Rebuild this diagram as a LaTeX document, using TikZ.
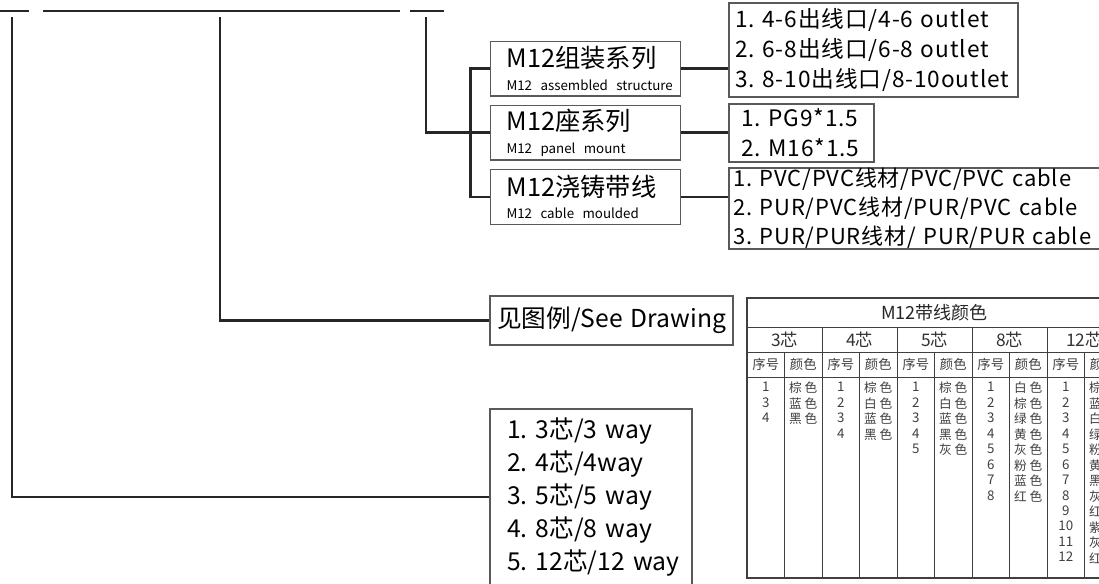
\documentclass[tikz,border=0pt]{standalone}
\usepackage{fontspec}
\setmainfont{Noto Sans CJK SC}
\newfontfamily\spacedfont{Noto Sans CJK SC}[LetterSpace=4]
\newfontfamily\narrowfont{Noto Sans CJK SC}[WordSpace=0.4]
\usepackage{xcolor}
\usepackage{tikz}
\exhyphenpenalty=10000
\hyphenpenalty=10000

\begin{document}
\begin{tikzpicture}[x=0.75pt, y=-0.75pt,
  wire/.style={line width=2.1pt, draw=black!85},
  box/.style={rectangle, draw=black!65, line width=1pt, fill=white, inner ysep=0pt, align=left},
  mainbox/.style={box, inner xsep=12pt, text width=118.5pt, minimum height=41pt, font=\fontsize{19}{17}\selectfont},
  listbox/.style={box, font=\spacedfont\fontsize{17}{22.5}\selectfont},
  tabline/.style={draw=black!75, line width=0.7pt},
  tabtitle/.style={inner sep=0pt, text=black!85, font=\fontsize{13.5}{14}\selectfont},
  tabhead/.style={inner sep=0pt, text=black!80, font=\fontsize{13}{13}\selectfont},
  tabsub/.style={inner sep=0pt, text=black!75, font=\fontsize{10}{10}\selectfont},
  tabnum/.style={inner sep=0pt, anchor=north, align=center, text=black!75, font=\fontsize{10}{11.6}\selectfont},
  tabclr/.style={inner sep=0pt, anchor=north, align=center, text=black!75, font=\fontsize{9.5}{11.6}\selectfont}]
  \useasboundingbox (0,0) rectangle (1099,583);
  \clip (0,0) rectangle (1099,583);
  \fill[white] (0,0) rectangle (1099,583);

  \draw[wire] (0,11) -- (29,11);
  \draw[wire] (43,11) -- (400,11);
  \draw[wire] (410,11) -- (444,11);
  \coordinate (coreTop) at (12,17);
  \coordinate (drawTop) at (220,17);
  \coordinate (seriesTop) at (426,17);

  \node[mainbox] (assembled) at (585.5,68.75) {M12组装系列\\{\narrowfont\fontsize{10}{13}\selectfont M12~assembled~structure}};
  \node[mainbox] (panel) at (585.5,132.75) {M12座系列\\{\narrowfont\fontsize{10}{13}\selectfont M12~panel~mount}};
  \node[mainbox] (moulded) at (585.5,197) {M12浇铸带线\\{\narrowfont\fontsize{10}{13}\selectfont M12~cable~moulded}};

  \node[listbox, inner xsep=4.5pt, text width=207.75pt, minimum height=70.5pt] (outlet) at (873.5,50) {1.~4-6出线口/4-6~outlet\\2.~6-8出线口/6-8~outlet\\3.~8-10出线口/8-10outlet};
  \node[listbox, inner xsep=9pt, text width=90.75pt, minimum height=43.5pt] (thread) at (801.5,133) {1.~PG9*1.5\\2.~M16*1.5};
  \node[listbox, inner xsep=3pt, text width=272.25pt, minimum height=60.75pt, font=\spacedfont\fontsize{16.5}{21.75}\selectfont] (cable) at (914.5,208.5) {1.~PVC/PVC线材/PVC/PVC~cable\\2.~PUR/PVC线材/PUR/PVC~cable\\3.~PUR/PUR线材/~PUR/PUR~cable};

  \node[box, inner xsep=5.25pt, text width=171.75pt, minimum height=36.75pt, font=\fontsize{18.5}{22}\selectfont] (drawing) at (611.5,320.5) {见图例/See~Drawing};
  \node[box, inner xsep=12.75pt, text width=126pt, minimum height=132pt, font=\fontsize{18.5}{24.75}\selectfont] (ways) at (591,497) {1.~3芯/3~way\\2.~4芯/4way\\3.~5芯/5~way\\4.~8芯/8~way\\5.~12芯/12~way};

  \draw[wire] (coreTop) |- (ways.west);
  \draw[wire] (drawTop) |- (drawing.west);
  \draw[wire] (seriesTop) |- (panel.west);
  \draw[wire] (assembled.west) -- ++(-19,0) |- (moulded.west);
  \draw[wire] (assembled.east) -- (assembled.east -| outlet.west);
  \draw[wire] (panel.east) -- (panel.east -| thread.west);
  \draw[wire] (moulded.east) -- (moulded.east -| cable.west);

  \draw[tabline, line width=1.1pt] (747,298) rectangle (1122,578);
  \draw[tabline] (747,327) -- (1122,327) (747,352) -- (1122,352) (747,377) -- (1122,377);
  \node[tabtitle] (tabTitle) at (934.5,312.5) {M12带线颜色};
  \foreach \g/\core/\nums/\cols in {
    0/3/{1\\3\\4}/{棕 色\\蓝 色\\黑 色},
    1/4/{1\\2\\3\\4}/{棕 色\\白 色\\蓝 色\\黑 色},
    2/5/{1\\2\\3\\4\\5}/{棕 色\\白 色\\蓝 色\\黑 色\\灰 色},
    3/8/{1\\2\\3\\4\\5\\6\\7\\8}/{白 色\\棕 色\\绿 色\\黄 色\\灰 色\\粉 色\\蓝 色\\红 色},
    4/12/{1\\2\\3\\4\\5\\6\\7\\8\\9\\10\\11\\12}/{棕 色\\蓝 色\\白 色\\绿 色\\粉 色\\黄 色\\黑 色\\灰 色\\红 色\\紫 色\\灰 粉\\红 蓝}} {
    \pgfmathsetmacro\xs{747+75*\g}
    \ifnum\g>0 \draw[tabline] (\xs,327) -- (\xs,578); \fi
    \draw[tabline] (\xs+37.5,352) -- (\xs+37.5,578);
    \node[tabhead] (head\g) at (\xs+37.5,339.5) {\core{}芯};
    \node[tabsub] (no\g) at (\xs+18.75,364.5) {序号};
    \node[tabsub] (clr\g) at (\xs+56.25,364.5) {颜色};
    \node[tabnum] (nums\g) at (\xs+18.75,382) {\nums};
    \node[tabclr] (cols\g) at (\xs+56.25,382) {\cols};
  }
\end{tikzpicture}
\end{document}
